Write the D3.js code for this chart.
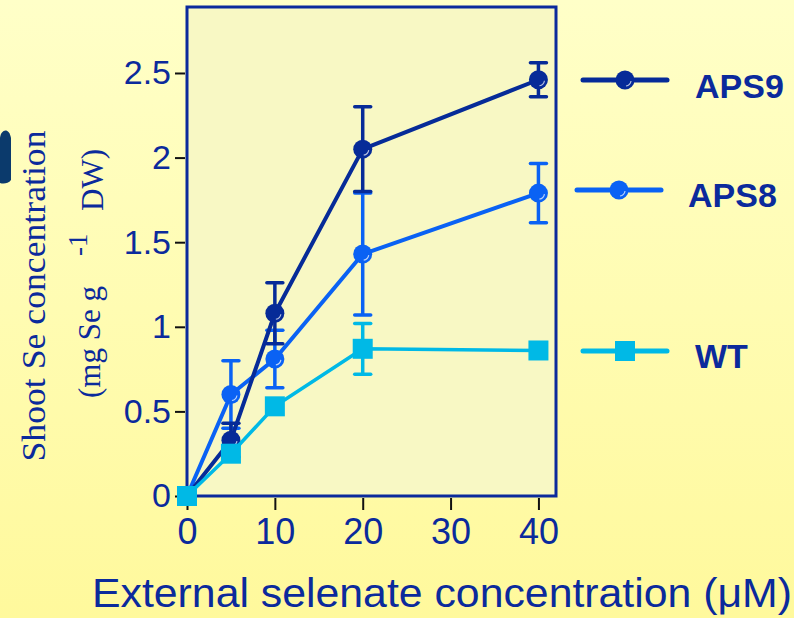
<!DOCTYPE html>
<html><head><meta charset="utf-8">
<script src="https://cdn.jsdelivr.net/npm/d3@7"></script>
<style>html,body{margin:0;padding:0;overflow:hidden;}svg{display:block;}</style>
</head><body>
<svg id="c" width="794" height="618"></svg>
<script>
// ---- data ----
const xValues = [0, 5, 10, 20, 40];
const aps9 = [0, 0.33, 1.08, 2.05, 2.46];
const aps9Err = [0, 0.10, 0.18, 0.25, 0.10];
const aps8 = [0, 0.60, 0.81, 1.43, 1.79];
const aps8Err = [0, 0.20, 0.17, 0.36, 0.175];
const wt = [0, 0.25, 0.53, 0.87, 0.86];
const wtErr = [0, 0, 0, 0.15, 0];
const xTicks = [0, 10, 20, 30, 40];
const yTicks = [0, 0.5, 1, 1.5, 2, 2.5];
const yTickLabels = ["0", "0.5", "1", "1.5", "2", "2.5"];
const seriesNames = ["APS9", "APS8", "WT"];

const svg = d3.select("#c");
const W = 794, H = 618;
const textColor = "#0b2a9c";
const colors = {APS9: "#062b98", APS8: "#0a62f4", WT: "#00b9e6"};

// background gradient
const defs = svg.append("defs");
const g = defs.append("linearGradient").attr("id", "bg").attr("x1", 0).attr("y1", 0).attr("x2", 0).attr("y2", 1);
g.append("stop").attr("offset", "0%").attr("stop-color", "#ffffc8");
g.append("stop").attr("offset", "100%").attr("stop-color", "#fff99c");
svg.append("rect").attr("width", W).attr("height", H).attr("fill", "url(#bg)");

// partial glyph at left edge
svg.append("path").attr("d", "M0,138 C1,129 9,127 11,138 L11,180 C8,184 3,184 0,183 Z").attr("fill", "#0b3a6c");

const x = d3.scaleLinear().domain([0, 42]).range([187, 556]);
const y = d3.scaleLinear().domain([0, 2.89]).range([496, 7]);

// plot area
svg.append("rect").attr("x", x(0)).attr("y", y(2.89)).attr("width", x(42) - x(0)).attr("height", y(0) - y(2.89))
  .attr("fill", "#f8f8c4").attr("stroke", textColor).attr("stroke-width", 3);

// axes
const yAxis = d3.axisLeft(y).tickValues(yTicks).tickFormat((d, i) => yTickLabels[i]).tickSize(10).tickPadding(4);
const ya = svg.append("g").attr("transform", `translate(${x(0) - 2},0)`).call(yAxis);
ya.select(".domain").remove();
ya.selectAll(".tick line").attr("stroke", "#111").attr("stroke-width", 2);
ya.selectAll(".tick text").attr("fill", textColor).attr("font-family", "Arial, 'Liberation Sans', sans-serif").attr("font-size", 34);

const xAxis = d3.axisBottom(x).tickValues(xTicks).tickFormat(d3.format("d")).tickSize(12).tickPadding(8);
const xa = svg.append("g").attr("transform", `translate(0,${y(0) + 2})`).call(xAxis);
xa.select(".domain").remove();
xa.selectAll(".tick line").attr("stroke", "#111").attr("stroke-width", 2);
xa.selectAll(".tick text").attr("fill", textColor).attr("font-family", "Arial, 'Liberation Sans', sans-serif").attr("font-size", 36);

// titles
svg.append("text").attr("x", 92).attr("y", 607).attr("fill", textColor)
  .attr("font-family", "Arial, 'Liberation Sans', sans-serif").attr("font-size", 41)
  .attr("textLength", 700).attr("lengthAdjust", "spacingAndGlyphs")
  .text("External selenate concentration (μM)");

const serif = "'Times New Roman', 'Liberation Serif', serif";
svg.append("text").attr("transform", "translate(45,296) rotate(-90)").attr("text-anchor", "middle")
  .attr("fill", textColor).attr("font-family", serif).attr("font-size", 33)
  .attr("textLength", 331).attr("lengthAdjust", "spacingAndGlyphs").text("Shoot Se concentration");
svg.append("text").attr("transform", "translate(100,398) rotate(-90)").attr("text-anchor", "start")
  .attr("fill", textColor).attr("font-family", serif).attr("font-size", 31).text("(mg Se g");
svg.append("text").attr("transform", "translate(87,256) rotate(-90)").attr("text-anchor", "start")
  .attr("fill", textColor).attr("font-family", serif).attr("font-size", 27).text("-1");
svg.append("text").attr("transform", "translate(103,211) rotate(-90)").attr("text-anchor", "start")
  .attr("fill", textColor).attr("font-family", serif).attr("font-size", 31).text("DW)");

// series
const series = {
  APS9: {vals: aps9, err: aps9Err, shape: "circle"},
  APS8: {vals: aps8, err: aps8Err, shape: "circle"},
  WT: {vals: wt, err: wtErr, shape: "square"}
};
const line = d3.line().x(d => x(d[0])).y(d => y(d[1]));

function drawMarker(sel, cx, cy, shape, color) {
  if (shape === "circle") {
    sel.append("circle").attr("cx", cx).attr("cy", cy).attr("r", 9.5).attr("fill", color);
    sel.append("path").attr("d", `M${cx + 6},${cy + 1} A6,6 0 0 1 ${cx + 1},${cy + 6}`)
      .attr("fill", "none").attr("stroke", "#ffffff").attr("stroke-opacity", 0.7).attr("stroke-width", 1.2);
  } else {
    sel.append("rect").attr("x", cx - 10).attr("y", cy - 10).attr("width", 20).attr("height", 20).attr("fill", color);
  }
}

const drawOrder = ["APS8", "APS9", "WT"];
drawOrder.forEach(name => {
  const s = series[name];
  const c = colors[name];
  const grp = svg.append("g");
  const pts = xValues.map((xv, i) => [xv, s.vals[i], s.err[i]]);
  // error bars
  pts.filter(p => p[2] > 0).forEach(p => {
    const px = x(p[0]);
    grp.append("line").attr("x1", px).attr("x2", px).attr("y1", y(p[1] - p[2])).attr("y2", y(p[1] + p[2]))
      .attr("stroke", c).attr("stroke-width", 3.5);
    [p[1] - p[2], p[1] + p[2]].forEach(v => {
      grp.append("line").attr("x1", px - 8).attr("x2", px + 8).attr("y1", y(v)).attr("y2", y(v))
        .attr("stroke", c).attr("stroke-width", 3.5).attr("stroke-linecap", "round");
    });
  });
  grp.append("path").datum(pts).attr("d", line).attr("fill", "none").attr("stroke", c)
    .attr("stroke-width", name === "WT" ? 3.5 : 4).attr("stroke-linejoin", "round");
  pts.forEach(p => drawMarker(grp, x(p[0]), y(p[1]), s.shape, c));
});

// legend
const legendPos = [
  {name: "APS9", x1: 583, x2: 667, y: 80, tx: 695, ty: 98},
  {name: "APS8", x1: 577, x2: 661, y: 190, tx: 688, ty: 207},
  {name: "WT", x1: 583, x2: 667, y: 351, tx: 695, ty: 368}
];
legendPos.forEach((L, i) => {
  const name = seriesNames[i];
  const c = colors[name];
  const lg = svg.append("g");
  lg.append("line").attr("x1", L.x1).attr("x2", L.x2).attr("y1", L.y).attr("y2", L.y)
    .attr("stroke", c).attr("stroke-width", 5).attr("stroke-linecap", "round");
  drawMarker(lg, (L.x1 + L.x2) / 2, L.y, series[name].shape, c);
  lg.append("text").attr("x", L.tx).attr("y", L.ty).attr("fill", textColor)
    .attr("font-family", "Arial, 'Liberation Sans', sans-serif").attr("font-weight", "bold").attr("font-size", 34)
    .text(name);
});
</script>
</body></html>
